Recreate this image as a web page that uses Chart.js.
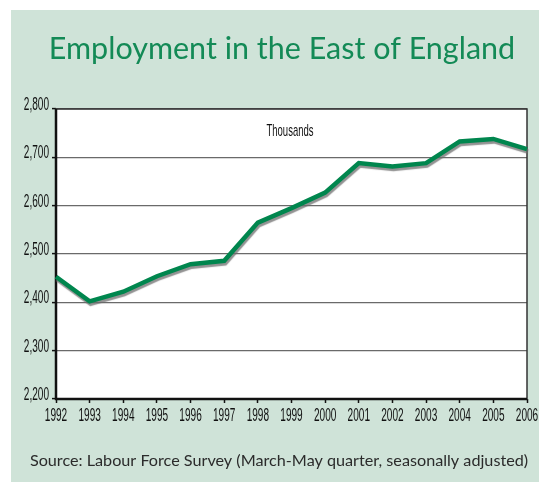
<!DOCTYPE html>
<html>
<head>
<meta charset="utf-8">
<script src="https://cdn.jsdelivr.net/npm/chart.js@4"></script>
<style>
  html, body { margin: 0; padding: 0; background: #ffffff; }
  #wrap { position: relative; width: 539px; height: 482px; }
</style>
</head>
<body>
<div id="wrap"><canvas id="c" width="539" height="482"></canvas></div>
<script>
const years = ['1992','1993','1994','1995','1996','1997','1998','1999','2000','2001','2002','2003','2004','2005','2006'];
const employment = [2453, 2402, 2422, 2454, 2479, 2486, 2565, 2595, 2627, 2688, 2681, 2688, 2733, 2738, 2717];
const yMin = 2200, yMax = 2800, yStep = 100;
const titleText = 'Employment in the East of England';
const unitText = 'Thousands';
const sourceText = 'Source: Labour Force Survey (March-May quarter, seasonally adjusted)';

const axisFamily = '"Liberation Sans", Arial, sans-serif';
const squeeze = 0.56;

// draw text horizontally condensed around its own anchor point
function condensedFillText(ctx, fn) {
  const orig = ctx.fillText;
  ctx.fillText = function (text, x, y) {
    this.save();
    this.translate(x, y);
    this.scale(squeeze, 1);
    orig.call(this, text, 0, 0);
    this.restore();
  };
  try { fn(); } finally { ctx.fillText = orig; }
}

const condensePlugin = {
  id: 'condense',
  beforeDraw(chart) {
    Object.values(chart.scales).forEach(s => {
      if (s._condensed) return;
      const origDraw = s.drawLabels.bind(s);
      s.drawLabels = function (area) {
        condensedFillText(chart.ctx, () => origDraw(area));
      };
      s._condensed = true;
    });
  }
};

const bgPlugin = {
  id: 'bg',
  beforeDraw(chart) {
    const ctx = chart.ctx, a = chart.chartArea;
    ctx.save();
    ctx.fillStyle = '#cfe3d8';
    ctx.fillRect(11, 10, chart.width - 11, chart.height - 10);
    ctx.fillStyle = '#ffffff';
    ctx.fillRect(a.left, a.top, a.right - a.left, a.bottom - a.top);
    ctx.restore();
  },
  afterDraw(chart) {
    const ctx = chart.ctx;
    ctx.save();
    ctx.textAlign = 'center';
    ctx.textBaseline = 'alphabetic';
    ctx.fillStyle = '#138a56';
    ctx.font = '30.5px Lato, "Open Sans", sans-serif';
    ctx.fillText(titleText, 282, 59);
    ctx.fillStyle = '#2b2b2b';
    ctx.font = '16.2px Lato, "Open Sans", sans-serif';
    ctx.fillText(sourceText, 279, 466);
    ctx.fillStyle = '#111';
    ctx.font = '17px ' + axisFamily;
    condensedFillText(ctx, () => ctx.fillText(unitText, 290, 136));
    ctx.restore();
  }
};

const framePlugin = {
  id: 'frame',
  beforeDatasetsDraw(chart) {
    const ctx = chart.ctx, a = chart.chartArea;
    ctx.save();
    ctx.strokeStyle = '#333';
    ctx.lineWidth = 1.5;
    ctx.strokeRect(a.left, a.top, a.right - a.left, a.bottom - a.top);
    ctx.strokeStyle = '#111';
    ctx.lineWidth = 2.5;
    ctx.beginPath();
    ctx.moveTo(a.left, a.top);
    ctx.lineTo(a.left, a.bottom);
    ctx.lineTo(a.right, a.bottom);
    ctx.stroke();
    ctx.restore();
  }
};

const shadowPlugin = {
  id: 'shadow',
  beforeDatasetDraw(chart) {
    const ctx = chart.ctx;
    ctx.save();
    ctx.shadowColor = 'rgba(110,110,110,0.75)';
    ctx.shadowOffsetX = 1;
    ctx.shadowOffsetY = 2.5;
    ctx.shadowBlur = 1;
  },
  afterDatasetDraw(chart) {
    chart.ctx.restore();
  }
};

new Chart(document.getElementById('c'), {
  type: 'line',
  data: {
    labels: years,
    datasets: [{
      data: employment,
      borderColor: '#00864e',
      borderWidth: 4.5,
      pointRadius: 0,
      tension: 0,
      fill: false,
      borderJoinStyle: 'miter'
    }]
  },
  options: {
    responsive: false,
    animation: false,
    devicePixelRatio: 1,
    layout: { padding: { left: 11, right: 0, top: 109, bottom: 53 } },
    plugins: {
      legend: { display: false },
      tooltip: { enabled: false },
      title: { display: false }
    },
    scales: {
      x: {
        type: 'category',
        offset: false,
        grid: { display: true, drawOnChartArea: false, tickLength: 4, tickColor: '#111', tickWidth: 1.5 },
        border: { display: false },
        ticks: { color: '#111', font: { family: axisFamily, size: 18 }, padding: 2, maxRotation: 0, autoSkip: false },
        afterFit(s) { s.height = 30; s.paddingLeft = 0; s.paddingRight = 12; }
      },
      y: {
        min: yMin, max: yMax,
        grid: { color: '#6a6a6a', lineWidth: 1.2, tickLength: 4, tickColor: '#111', tickWidth: 1.5 },
        border: { display: false },
        ticks: {
          stepSize: yStep,
          color: '#111',
          font: { family: axisFamily, size: 18 },
          padding: 3,
          labelOffset: -4,
          callback: v => v.toLocaleString('en-US')
        },
        afterFit(s) { s.width = 45; s.paddingTop = 0; s.paddingBottom = 0; }
      }
    }
  },
  plugins: [condensePlugin, bgPlugin, framePlugin, shadowPlugin]
});
</script>
</body>
</html>
